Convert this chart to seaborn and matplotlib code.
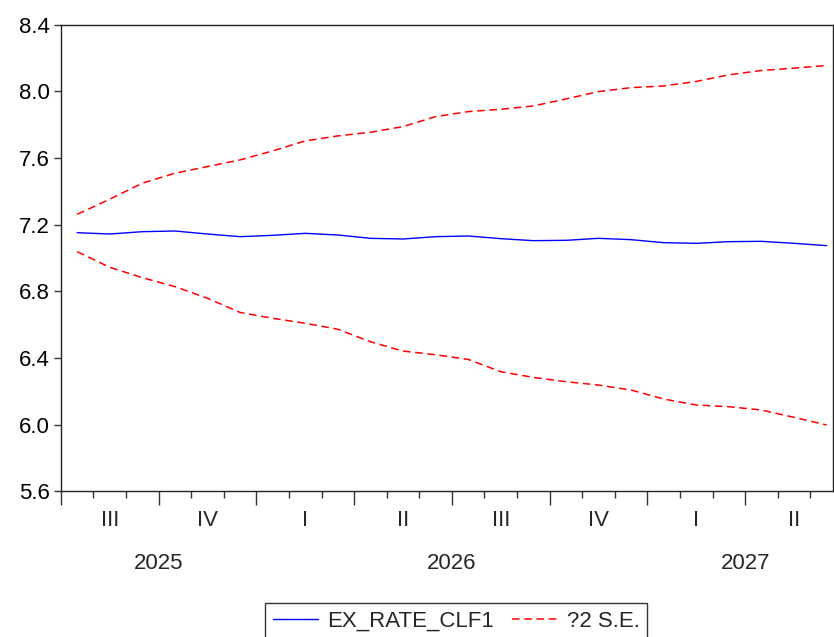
import numpy as np
import pandas as pd
import matplotlib
matplotlib.use("Agg")
import matplotlib.pyplot as plt
import matplotlib.transforms as mtransforms
import seaborn as sns

# monthly forecast, Jul 2025 .. Jun 2027
months = pd.period_range("2025-07", "2027-06", freq="M")
forecast = [7.152, 7.144, 7.158, 7.162, 7.144, 7.128, 7.136, 7.148, 7.138, 7.118, 7.114, 7.128,
            7.132, 7.116, 7.104, 7.106, 7.118, 7.110, 7.092, 7.088, 7.098, 7.100, 7.088, 7.074]
upper = [7.262, 7.353, 7.449, 7.509, 7.549, 7.589, 7.643, 7.703, 7.733, 7.755, 7.789, 7.849,
         7.879, 7.893, 7.913, 7.955, 7.999, 8.023, 8.033, 8.060, 8.100, 8.126, 8.140, 8.156]
lower = [7.038, 6.944, 6.882, 6.828, 6.758, 6.673, 6.638, 6.608, 6.572, 6.497, 6.441, 6.419,
         6.391, 6.317, 6.283, 6.257, 6.237, 6.207, 6.153, 6.117, 6.107, 6.087, 6.043, 5.997]
quarter_labels = ["III", "IV", "I", "II", "III", "IV", "I", "II"]
year_labels = ["2025", "2026", "2027"]

sns.set_style("ticks")
plt.rcParams['font.family'] = ['Liberation Sans', 'DejaVu Sans']
FS = 16

idx = np.arange(len(months))
df = pd.DataFrame({"t": idx, "forecast": forecast, "upper": upper, "lower": lower})

fig = plt.figure(figsize=(8.34, 6.37), dpi=100)
ax = fig.add_axes([0.073, 0.229, 0.926, 0.732])

sns.lineplot(data=df, x="t", y="forecast", ax=ax, color="#0000ff", lw=1.0,
             label="EX_RATE_CLF1")
sns.lineplot(data=df, x="t", y="upper", ax=ax, color="#ff0000", lw=1.1, label="?2 S.E.")
sns.lineplot(data=df, x="t", y="lower", ax=ax, color="#ff0000", lw=1.1, label="_nolegend_")
for ln in ax.lines[1:]:
    ln.set_dashes([5, 3])

ax.set_xlim(-0.5, 23.2)
ax.set_ylim(5.6, 8.4)
ax.set_yticks(np.arange(5.6, 8.41, 0.4))
ax.set_yticklabels([f"{v:.1f}" for v in np.arange(5.6, 8.41, 0.4)], fontsize=FS)
ax.set_xlabel("")
ax.set_ylabel("")

# month boundaries as minor ticks, quarter boundaries as major ticks
bounds = idx - 0.5
qb = [b for i, b in zip(idx, bounds) if months[i].month in (1, 4, 7, 10)]
ax.set_xticks(qb)
ax.set_xticklabels([])
ax.set_xticks(bounds, minor=True)
ax.tick_params(axis="x", which="major", length=10, width=1, colors="#333333")
ax.tick_params(axis="x", which="minor", length=5, width=1, colors="#333333")
ax.tick_params(axis="y", length=5, width=1, colors="#333333", labelcolor="black", pad=3)

trans = mtransforms.blended_transform_factory(ax.transData, ax.transAxes)
q_centers = [i for i in idx if months[i].month in (2, 5, 8, 11)]
for x, lab in zip(q_centers, quarter_labels):
    ax.text(x, -0.063, lab, transform=trans, ha="center", va="center", fontsize=FS)
y_centers = []
for yr in (2025, 2026, 2027):
    sel = [i for i in idx if months[i].year == yr]
    y_centers.append((sel[0] + sel[-1]) / 2)
for x, lab in zip(y_centers, year_labels):
    ax.text(x, -0.155, lab, transform=trans, ha="center", va="center", fontsize=FS)

for s in ax.spines.values():
    s.set_color("#222222")
    s.set_linewidth(1)

leg = ax.legend(loc="upper center", bbox_to_anchor=(0.512, -0.24), ncol=2, fontsize=FS,
                frameon=True, fancybox=False, edgecolor="black", handlelength=2.0,
                handletextpad=0.45, columnspacing=0.8, borderpad=0.35, borderaxespad=0)
leg.get_frame().set_linewidth(1)

fig.savefig("out.png", dpi=100)
